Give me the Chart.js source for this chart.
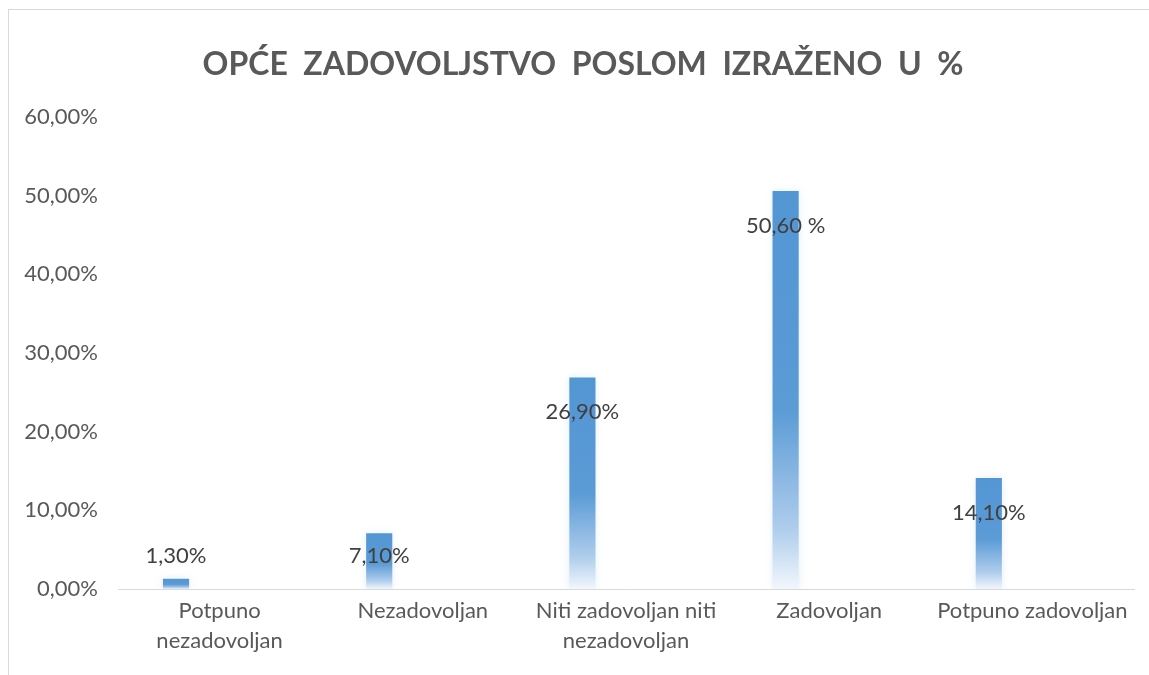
<!DOCTYPE html>
<html>
<head>
<meta charset="utf-8">
<script src="https://cdn.jsdelivr.net/npm/chart.js@4.4.1/dist/chart.umd.min.js"></script>
<style>
  html, body { margin: 0; padding: 0; background: #ffffff; }
  #wrap { position: relative; width: 1149px; height: 675px; overflow: hidden; }
  #frame { position: absolute; left: 8px; top: 9px; right: -2px; bottom: -2px;
           border-left: 1px solid #d9d9d9; border-top: 1px solid #d9d9d9; }
  canvas { position: absolute; left: 0; top: 0; }
</style>
</head>
<body>
<div id="wrap">
  <div id="frame"></div>
  <canvas id="c" width="1149" height="675"></canvas>
</div>
<script>
// ---- data ----
const chartTitle = 'OPĆE  ZADOVOLJSTVO  POSLOM  IZRAŽENO  U  %';
const categories = [
  ['Potpuno', 'nezadovoljan'],
  'Nezadovoljan',
  ['Niti zadovoljan niti', 'nezadovoljan'],
  'Zadovoljan',
  'Potpuno zadovoljan'
];
const values = [1.3, 7.1, 26.9, 50.6, 14.1];
const valueLabels = ['1,30%', '7,10%', '26,90%', '50,60 %', '14,10%'];
const emptySeries = [null, null, null, null, null];
const yMin = 0, yMax = 60, yStep = 10;

const FONT = 'Lato, "Open Sans", sans-serif';
const TEXT = '#595959';

function barGradient(context) {
  const chart = context.chart;
  const y = chart.scales.y;
  if (!chart.chartArea || !y) return '#5b9bd5';
  const v = context.raw;
  if (v == null) return '#5b9bd5';
  const top = y.getPixelForValue(v);
  const base = y.getPixelForValue(0);
  if (!(base > top)) return '#5b9bd5';
  const g = chart.ctx.createLinearGradient(0, top, 0, base);
  g.addColorStop(0, '#5396d4');
  g.addColorStop(0.55, '#5b9bd6');
  g.addColorStop(0.85, '#afcdec');
  g.addColorStop(1, '#f2f7fd');
  return g;
}

// the framed chart box starts at x=8, so its title is centred a little right of the canvas centre
const titleShiftPlugin = {
  id: 'titleShift',
  afterLayout(chart) {
    const t = chart.titleBlock;
    if (t) { t.left += 16; t.right += 16; }
  }
};

const glowPlugin = {
  id: 'glow',
  beforeDatasetsDraw(chart) {
    const ctx = chart.ctx;
    ctx.save();
    ctx.shadowColor = 'rgba(225, 236, 248, 0.9)';
    ctx.shadowBlur = 8;
  },
  afterDatasetsDraw(chart) {
    chart.ctx.restore();
  }
};

const labelPlugin = {
  id: 'valueLabels',
  afterDatasetsDraw(chart) {
    const ctx = chart.ctx;
    const meta = chart.getDatasetMeta(0);
    ctx.save();
    ctx.font = '22px ' + FONT;
    ctx.fillStyle = '#404040';
    ctx.textAlign = 'center';
    ctx.textBaseline = 'middle';
    meta.data.forEach((el, i) => {
      const y = Math.min(el.y + 35, el.base - 33);
      ctx.fillText(valueLabels[i], el.x, y);
    });
    ctx.restore();
  }
};

Chart.defaults.font.family = FONT;
Chart.defaults.color = TEXT;

new Chart(document.getElementById('c'), {
  type: 'bar',
  data: {
    labels: categories,
    datasets: [
      { data: values, backgroundColor: barGradient, borderWidth: 0,
        categoryPercentage: 0.858, barPercentage: 0.30 },
      { data: emptySeries, backgroundColor: '#5b9bd5', borderWidth: 0,
        categoryPercentage: 0.858, barPercentage: 0.30 }
    ]
  },
  options: {
    responsive: false,
    animation: false,
    devicePixelRatio: 1,
    layout: { padding: { left: 0, right: 15, top: 0, bottom: 0 } },
    plugins: {
      legend: { display: false },
      tooltip: { enabled: false },
      title: {
        display: true,
        text: chartTitle,
        color: TEXT,
        font: { size: 32, weight: 'bold', family: FONT, lineHeight: 1.2 },
        padding: { top: 45, bottom: 33.6 }
      }
    },
    scales: {
      x: {
        grid: { display: false, drawTicks: false },
        border: { display: true, color: '#d9d9d9', width: 1 },
        ticks: {
          color: TEXT,
          font: { size: 22, lineHeight: 1.36 },
          padding: 7,
          maxRotation: 0,
          autoSkip: false
        },
        afterFit(scale) { scale.height = 86; }
      },
      y: {
        min: yMin,
        max: yMax,
        grid: { display: false, drawTicks: false },
        border: { display: false },
        ticks: {
          stepSize: yStep,
          color: TEXT,
          font: { size: 22 },
          padding: 20,
          callback: (v) => v.toFixed(2).replace('.', ',') + '%'
        },
        afterFit(scale) { scale.width = 118; }
      }
    }
  },
  plugins: [titleShiftPlugin, glowPlugin, labelPlugin]
});
</script>
</body>
</html>
